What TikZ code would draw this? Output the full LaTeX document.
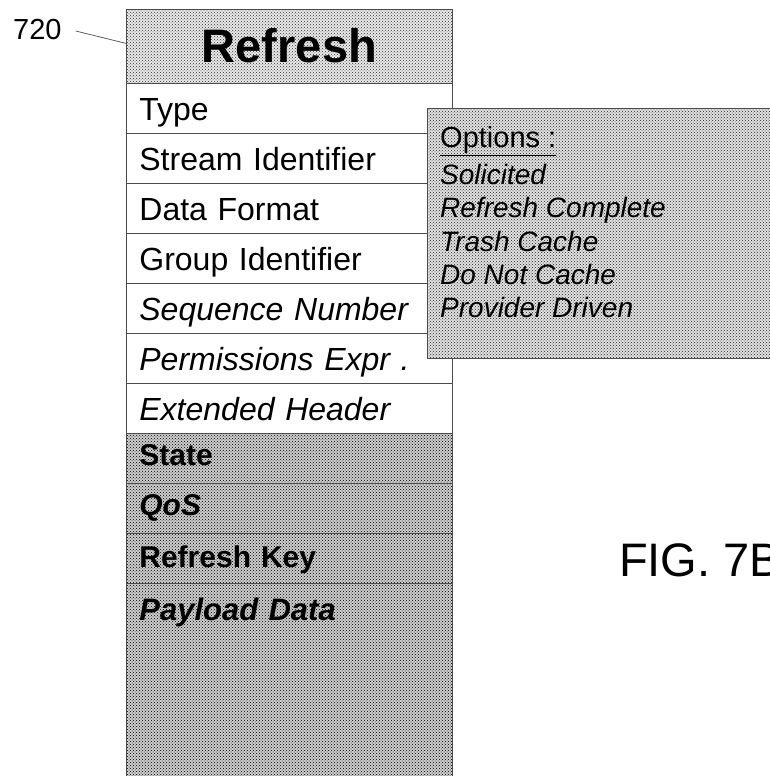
\documentclass[tikz,border=0pt]{standalone}
\usepackage{fontspec}
\setmainfont{Liberation Sans}
\usetikzlibrary{patterns,calc}
\begin{document}
\begin{tikzpicture}[x=1pt,y=1pt,
  border/.style={draw=black!70, line width=0.8pt},
  row/.style={border, anchor=north west, minimum width=326pt, text width=300pt,
    inner xsep=13pt, inner ysep=0pt, align=left, text height=37pt, text depth=13pt,
    font=\fontsize{32}{36}\selectfont},
  datarow/.style={row, preaction={fill=black!20}, pattern=crosshatch dots, pattern color=black,
    text height=32pt, text depth=18pt, font=\fontsize{30}{34}\selectfont\bfseries},
  optitem/.style={anchor=base west, inner sep=0pt, font=\fontsize{28}{32}\selectfont\itshape}
]
\useasboundingbox (0,0) rectangle (770,776);
\clip (0,0) rectangle (770,776);

% title
\node[border, anchor=north west, minimum width=326pt, text width=300pt, inner xsep=13pt, inner ysep=0pt,
  align=center, text height=53pt, text depth=21pt, preaction={fill=black!9}, pattern=crosshatch dots, pattern color=black!80,
  font=\fontsize{47}{52}\selectfont\bfseries] (title) at (126,767) {Refresh};

\node[row] (r1) at (126,693) {Type};
\node[row] (r2) at (126,643) {Stream Identifier};
\node[row] (r3) at (126,593) {Data Format};
\node[row] (r4) at (126,543) {Group Identifier};
\node[row, font=\fontsize{32}{36}\selectfont\itshape] (r5) at (126,493) {Sequence Number};
\node[row, font=\fontsize{32}{36}\selectfont\itshape] (r6) at (126,443) {Permissions Expr .};
\node[row, font=\fontsize{32}{36}\selectfont\itshape] (r7) at (126,393) {Extended Header};
\node[datarow] (r8) at (126,343) {State};
\node[datarow, font=\fontsize{30}{34}\selectfont\bfseries\itshape] (r9) at (126,293) {QoS};
\node[datarow, text height=34pt, text depth=16pt] (r10) at (126,243) {Refresh Key};
\node[datarow, text height=37pt, text depth=160pt, font=\fontsize{31}{34}\selectfont\bfseries\itshape] (r11) at (126,193) {Payload Data};

% options box
\node[border, anchor=north west, minimum width=380pt, minimum height=250pt, inner sep=0pt,
  preaction={fill=black!12}, pattern=crosshatch dots, pattern color=black!85] (opts) at (427,668) {};
\node[anchor=base west, inner sep=0pt, font=\fontsize{29}{32}\selectfont] (opthead) at (440,628) {\underline{Options :}};
\node[optitem] (o1) at (440,591) {Solicited};
\node[optitem] (o2) at (440,558) {Refresh Complete};
\node[optitem] (o3) at (440,524) {Trash Cache};
\node[optitem] (o4) at (440,491) {Do Not Cache};
\node[optitem] (o5) at (440,458) {Provider Driven};

% reference numeral and figure label
\node[anchor=base west, inner sep=0pt, font=\fontsize{29}{32}\selectfont] (n720) at (13,736) {720};
\draw[black!70, line width=0.7pt] ($(n720.east)+(14pt,-1pt)$) -- ($(title.west)+(0,3pt)$);
\node[anchor=base west, inner sep=0pt, font=\fontsize{47}{52}\selectfont] (fig) at (619,199) {FIG. 7B};
\end{tikzpicture}
\end{document}
